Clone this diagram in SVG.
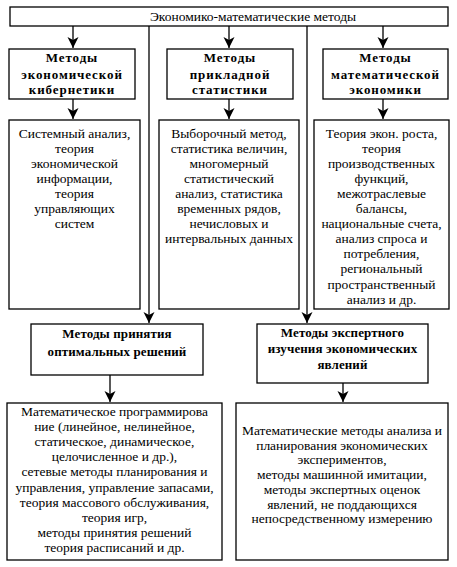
<svg xmlns="http://www.w3.org/2000/svg" width="457" height="567" viewBox="0 0 457 567">
<style>
.box{fill:#fff;stroke:#000;stroke-width:1.3}
.t{font-family:"Liberation Serif","Times New Roman",serif;font-size:13.5px;fill:#000;text-anchor:middle}
.h{font-family:"Liberation Serif","Times New Roman",serif;font-size:13px;font-weight:bold;letter-spacing:0.9px;fill:#000;text-anchor:middle}
.h2{font-family:"Liberation Serif","Times New Roman",serif;font-size:13px;font-weight:bold;letter-spacing:0.1px;fill:#000;text-anchor:middle}
.c{stroke:#000;stroke-width:1.3;fill:none}
</style>
<defs>
<marker id="ah" markerUnits="userSpaceOnUse" markerWidth="12" markerHeight="12" refX="11" refY="6" orient="auto">
<path d="M0,0.5 L11,6 L0,11.5 L3,6 z" fill="#000"/>
</marker>
</defs>
<rect width="457" height="567" fill="#fff"/>
<g id="connectors">
<line class="c" x1="73" y1="26" x2="73" y2="48" marker-end="url(#ah)"/>
<line class="c" x1="229" y1="26" x2="229" y2="48" marker-end="url(#ah)"/>
<line class="c" x1="383" y1="26" x2="383" y2="48" marker-end="url(#ah)"/>
<line class="c" x1="73" y1="99" x2="73" y2="119" marker-end="url(#ah)"/>
<line class="c" x1="229" y1="99" x2="229" y2="119" marker-end="url(#ah)"/>
<line class="c" x1="383" y1="99" x2="383" y2="119" marker-end="url(#ah)"/>
<line class="c" x1="149" y1="26" x2="149" y2="323" marker-end="url(#ah)"/>
<line class="c" x1="307" y1="26" x2="307" y2="323" marker-end="url(#ah)"/>
<line class="c" x1="110" y1="375" x2="110" y2="402" marker-end="url(#ah)"/>
<line class="c" x1="343" y1="383" x2="343" y2="402" marker-end="url(#ah)"/>
</g>
<g id="root">
<rect class="box" x="10" y="7" width="438" height="19"/>
<text class="t" x="253" y="21">Экономико-математические методы</text>
</g>
<g id="cyber">
<rect class="box" x="9" y="49" width="126" height="50"/>
<text class="h" x="72" y="62">Методы</text>
<text class="h" x="72" y="79">экономической</text>
<text class="h" x="72" y="94">кибернетики</text>
</g>
<g id="stat">
<rect class="box" x="167" y="49" width="126" height="50"/>
<text class="h" x="230" y="62">Методы</text>
<text class="h" x="230" y="79">прикладной</text>
<text class="h" x="230" y="94">статистики</text>
</g>
<g id="mathecon">
<rect class="box" x="323" y="49" width="125" height="50"/>
<text class="h" x="385.5" y="62">Методы</text>
<text class="h" x="385.5" y="79">математической</text>
<text class="h" x="385.5" y="94">экономики</text>
</g>
<g id="cyber-list">
<rect class="box" x="9" y="120" width="131" height="189"/>
<text class="t" x="74.5" y="137.5">Системный анализ,</text>
<text class="t" x="74.5" y="152.6">теория</text>
<text class="t" x="74.5" y="167.7">экономической</text>
<text class="t" x="74.5" y="182.8">информации,</text>
<text class="t" x="74.5" y="197.9">теория</text>
<text class="t" x="74.5" y="213">управляющих</text>
<text class="t" x="74.5" y="228.1">систем</text>
</g>
<g id="stat-list">
<rect class="box" x="159" y="120" width="140" height="189"/>
<text class="t" x="229" y="137.5">Выборочный метод,</text>
<text class="t" x="229" y="152.6">статистика величин,</text>
<text class="t" x="229" y="167.7">многомерный</text>
<text class="t" x="229" y="182.8">статистический</text>
<text class="t" x="229" y="197.9">анализ, статистика</text>
<text class="t" x="229" y="213">временных рядов,</text>
<text class="t" x="229" y="228.1">нечисловых и</text>
<text class="t" x="229" y="243.2">интервальных данных</text>
</g>
<g id="mathecon-list">
<rect class="box" x="314" y="120" width="135" height="189"/>
<text class="t" x="381.5" y="137.5">Теория экон. роста,</text>
<text class="t" x="381.5" y="152.6">теория</text>
<text class="t" x="381.5" y="167.7">производственных</text>
<text class="t" x="381.5" y="182.8">функций,</text>
<text class="t" x="381.5" y="197.9">межотраслевые</text>
<text class="t" x="381.5" y="213">балансы,</text>
<text class="t" x="381.5" y="228.1">национальные счета,</text>
<text class="t" x="381.5" y="243.2">анализ спроса и</text>
<text class="t" x="381.5" y="258.3">потребления,</text>
<text class="t" x="381.5" y="273.4">региональный</text>
<text class="t" x="381.5" y="288.5">пространственный</text>
<text class="t" x="381.5" y="303.6">анализ и др.</text>
</g>
<g id="optimal">
<rect class="box" x="31" y="324" width="172" height="51"/>
<text class="h2" x="117" y="338">Методы принятия</text>
<text class="h2" x="117" y="356">оптимальных решений</text>
</g>
<g id="expert">
<rect class="box" x="257" y="324" width="171" height="59"/>
<text class="h2" x="342.5" y="337">Методы экспертного</text>
<text class="h2" x="342.5" y="353">изучения экономических</text>
<text class="h2" x="342.5" y="369">явлений</text>
</g>
<g id="optimal-list">
<rect class="box" x="7" y="403" width="215" height="157"/>
<text class="t" x="114.5" y="415.5">Математическое программирова</text>
<text class="t" x="114.5" y="430.7">ние (линейное, нелинейное,</text>
<text class="t" x="114.5" y="445.9">статическое, динамическое,</text>
<text class="t" x="114.5" y="461.1">целочисленное и др.),</text>
<text class="t" x="114.5" y="476.3">сетевые методы планирования и</text>
<text class="t" x="114.5" y="491.5">управления, управление запасами,</text>
<text class="t" x="114.5" y="506.7">теория массового обслуживания,</text>
<text class="t" x="114.5" y="521.9">теория игр,</text>
<text class="t" x="114.5" y="537.1">методы принятия решений</text>
<text class="t" x="114.5" y="552.3">теория расписаний и др.</text>
</g>
<g id="expert-list">
<rect class="box" x="236" y="403" width="212" height="157"/>
<text class="t" x="342" y="435">Математические методы анализа и</text>
<text class="t" x="342" y="449.7">планирования экономических</text>
<text class="t" x="342" y="464.4">экспериментов,</text>
<text class="t" x="342" y="479.1">методы машинной имитации,</text>
<text class="t" x="342" y="493.8">методы экспертных оценок</text>
<text class="t" x="342" y="508.5">явлений, не поддающихся</text>
<text class="t" x="342" y="523.2">непосредственному измерению</text>
</g>
</svg>
